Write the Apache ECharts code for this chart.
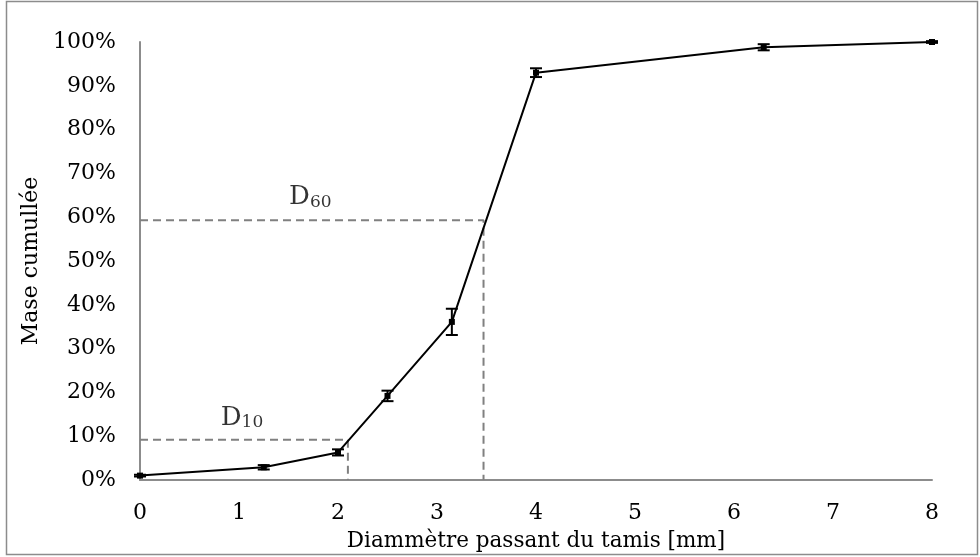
<!DOCTYPE html>
<html>
<head>
<meta charset="utf-8">
<script src="https://cdn.jsdelivr.net/npm/echarts@6/dist/echarts.min.js"></script>
<style>
html,body{margin:0;padding:0;background:#fff;}
#chart{width:980px;height:557px;}
</style>
</head>
<body>
<div id="chart"></div>
<script>
// Data
const diameters = [0, 1.25, 2, 2.5, 3.15, 4, 6.3, 8];
const cumulMass = [1.0, 2.9, 6.3, 19.2, 36.1, 93.0, 98.8, 100];
const errors = [0.2, 0.5, 0.7, 1.2, 3.0, 1.0, 0.7, 0.2];
const d10Line = [[0, 9.2], [2.1, 9.2], [2.1, 0]];
const d60Line = [[0, 59.3], [3.47, 59.3], [3.47, 0]];
const labelD10 = [1.03, 14.6];
const labelD60 = [1.72, 64.9];
const xTicks = {min: 0, max: 8, interval: 1};
const yTicks = {min: 0, max: 100, interval: 10};

const FONT = 'DejaVu Serif';
const chart = echarts.init(document.getElementById('chart'));

const mainData = diameters.map((d, i) => [d, cumulMass[i]]);
const errData = diameters.map((d, i) => [d, cumulMass[i], errors[i]]);

chart.setOption({
  animation: false,
  backgroundColor: '#fff',
  grid: {left: 140, right: 48, top: 42, bottom: 76, containLabel: false},
  xAxis: {
    type: 'value', min: xTicks.min, max: xTicks.max, interval: xTicks.interval,
    axisLine: {show: true, onZero: false, lineStyle: {color: '#8c8c8c', width: 2}},
    axisTick: {show: false},
    splitLine: {show: false},
    axisLabel: {color: '#000', fontFamily: FONT, fontSize: 22, margin: 22},
    name: 'Diammètre passant du tamis [mm]',
    nameLocation: 'middle', nameGap: 50,
    nameTextStyle: {color: '#000', fontFamily: FONT, fontSize: 21.5}
  },
  yAxis: {
    type: 'value', min: yTicks.min, max: yTicks.max, interval: yTicks.interval,
    axisLine: {show: true, lineStyle: {color: '#8c8c8c', width: 2}},
    axisTick: {show: false},
    splitLine: {show: false},
    axisLabel: {color: '#000', fontFamily: FONT, fontSize: 22, margin: 24, formatter: v => v + '%'},
    name: 'Mase cumullée',
    nameLocation: 'middle', nameGap: 95, nameRotate: 90,
    nameTextStyle: {color: '#000', fontFamily: FONT, fontSize: 22}
  },
  graphic: [{
    type: 'rect', shape: {x: 6.5, y: 1.5, width: 971, height: 553},
    style: {fill: 'none', stroke: '#8c8c8c', lineWidth: 1.5}, z: -10
  }],
  series: [
    {
      type: 'line', data: d10Line, symbol: 'none', silent: true,
      lineStyle: {color: '#808080', width: 2, type: [8, 5]}, z: 1
    },
    {
      type: 'line', data: d60Line, symbol: 'none', silent: true,
      lineStyle: {color: '#808080', width: 2, type: [8, 5]}, z: 1
    },
    {
      type: 'custom', data: errData, z: 3,
      renderItem: function (params, api) {
        const x = api.value(0), y = api.value(1), e = api.value(2);
        const top = api.coord([x, y + e]);
        const bot = api.coord([x, y - e]);
        const hw = 6;
        const st = {stroke: '#000', lineWidth: 2};
        return {
          type: 'group', children: [
            {type: 'line', shape: {x1: top[0], y1: top[1], x2: bot[0], y2: bot[1]}, style: st},
            {type: 'line', shape: {x1: top[0] - hw, y1: top[1], x2: top[0] + hw, y2: top[1]}, style: st},
            {type: 'line', shape: {x1: bot[0] - hw, y1: bot[1], x2: bot[0] + hw, y2: bot[1]}, style: st}
          ]
        };
      }
    },
    {
      type: 'line', data: mainData, symbol: 'rect', symbolSize: 6,
      itemStyle: {color: '#000'}, lineStyle: {color: '#000', width: 2}, z: 4
    },
    {
      type: 'scatter', symbolSize: 0, silent: true, z: 5,
      data: [
        {value: labelD10, name: '10'},
        {value: labelD60, name: '60'}
      ],
      label: {
        show: true, position: 'inside', color: '#000',
        formatter: p => '{d|D}{s|' + p.name + '}',
        rich: {
          d: {fontFamily: FONT, fontSize: 26, color: '#000', verticalAlign: 'bottom', lineHeight: 30},
          s: {fontFamily: FONT, fontSize: 17, color: '#000', verticalAlign: 'bottom', lineHeight: 24}
        }
      }
    }
  ]
});
</script>
</body>
</html>
